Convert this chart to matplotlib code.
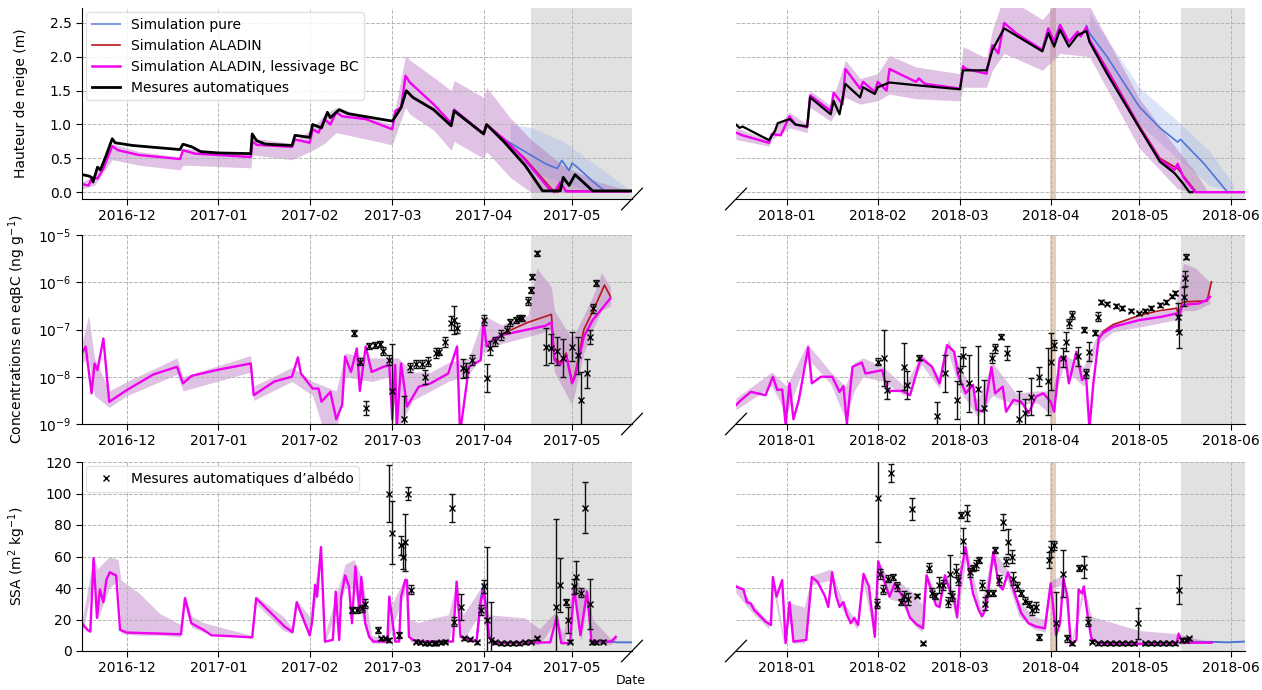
import numpy as np
import pandas as pd
import matplotlib
matplotlib.use('Agg')
import matplotlib.pyplot as plt
import matplotlib.dates as mdates
from matplotlib.lines import Line2D

# ---------------- DATA ----------------
# Top left: snow depth 2016-2017 (m)
tl_sim_dates = ['2016-11-15 18:00','2016-11-18','2016-11-19','2016-11-20','2016-11-21','2016-11-23','2016-11-26','2016-11-28','2016-12-05','2016-12-19','2016-12-20','2016-12-24','2017-01-01','2017-01-12','2017-01-12 12:00','2017-01-14','2017-01-26','2017-01-27','2017-02-01','2017-02-02','2017-02-04','2017-02-06','2017-02-08','2017-02-10','2017-02-12','2017-02-20','2017-03-01','2017-03-02','2017-03-04','2017-03-05 12:00','2017-03-07','2017-03-15','2017-03-21','2017-03-22','2017-04-01','2017-04-02','2017-04-08','2017-04-15','2017-04-20','2017-04-23','2017-04-25','2017-04-27','2017-04-29','2017-05-05','2017-05-20']
tl_sim_mag = [0.12,0.10,0.20,0.22,0.20,0.35,0.68,0.62,0.55,0.49,0.62,0.57,0.55,0.52,0.75,0.70,0.67,0.78,0.73,0.93,0.88,1.08,1.00,1.18,1.12,1.08,0.93,1.20,1.25,1.72,1.62,1.30,1.02,1.22,0.86,1.00,0.78,0.48,0.22,0.06,0.00,0.15,0.01,0.01,0.01]
tl_red_dates = ['2017-04-08','2017-04-15','2017-04-20','2017-04-24','2017-04-26','2017-04-27','2017-04-29','2017-05-20']
tl_red = [0.78,0.50,0.25,0.05,0.00,0.12,0.02,0.01]
tl_blue_dates = ['2017-04-08','2017-04-15','2017-04-22','2017-04-26','2017-04-27 12:00','2017-04-30','2017-05-01','2017-05-03','2017-05-08','2017-05-12','2017-05-21']
tl_blue = [0.78,0.60,0.42,0.35,0.47,0.32,0.43,0.36,0.16,0.02,0.01]
tl_obs_dates = ['2016-11-15 18:00','2016-11-18','2016-11-19','2016-11-19 12:00','2016-11-21','2016-11-22','2016-11-24','2016-11-26','2016-11-27','2016-12-03','2016-12-19','2016-12-20','2016-12-23','2016-12-26','2017-01-01','2017-01-12','2017-01-12 12:00','2017-01-14','2017-01-17','2017-01-26','2017-01-27','2017-02-01','2017-02-02','2017-02-05','2017-02-07','2017-02-08','2017-02-10','2017-02-11','2017-02-14','2017-03-01','2017-03-03','2017-03-04','2017-03-05 18:00','2017-03-08','2017-03-15','2017-03-21','2017-03-22','2017-04-01','2017-04-02','2017-04-08','2017-04-15','2017-04-21','2017-04-27','2017-04-28','2017-04-30','2017-05-02','2017-05-04','2017-05-08','2017-05-21']
tl_obs = [0.26,0.24,0.22,0.15,0.37,0.33,0.55,0.79,0.73,0.69,0.63,0.71,0.67,0.60,0.58,0.57,0.86,0.76,0.71,0.69,0.84,0.81,1.00,0.95,1.18,1.10,1.18,1.22,1.16,1.05,1.18,1.25,1.50,1.40,1.22,0.98,1.20,0.86,1.00,0.74,0.40,0.02,0.02,0.22,0.10,0.26,0.18,0.02,0.02]
tl_band_dates = ['2016-11-15 18:00','2016-11-20','2016-11-26','2016-12-05','2016-12-19','2016-12-20','2017-01-12','2017-01-12 12:00','2017-01-26','2017-02-02','2017-02-06','2017-02-10','2017-03-01','2017-03-05 12:00','2017-03-07','2017-03-15','2017-03-21','2017-03-22','2017-04-01','2017-04-02','2017-04-10','2017-04-17','2017-04-28','2017-05-10','2017-05-20']
tl_band_lo = [0.05,0.10,0.48,0.40,0.33,0.40,0.36,0.55,0.48,0.62,0.72,0.88,0.70,1.25,1.15,0.92,0.62,0.75,0.50,0.60,0.22,0.00,0.00,0.00,0.00]
tl_band_hi = [0.15,0.25,0.72,0.60,0.52,0.65,0.55,0.80,0.72,0.95,1.15,1.25,1.00,2.02,1.95,1.70,1.50,1.65,1.40,1.55,1.10,0.78,0.39,0.15,0.03]
tl_bband_dates = ['2017-04-10','2017-04-17','2017-04-28','2017-05-08','2017-05-20']
tl_bband_lo = [0.60,0.30,0.15,0.00,0.00]
tl_bband_hi = [1.00,0.96,0.75,0.44,0.05]

# Top right: snow depth 2017-2018 (m)
tr_sim_dates = ['2017-12-14 18:00','2017-12-17','2017-12-26','2017-12-27','2017-12-30','2018-01-02','2018-01-04','2018-01-08','2018-01-09','2018-01-16','2018-01-17','2018-01-20','2018-01-21','2018-01-26','2018-01-27','2018-01-31','2018-02-01','2018-02-04','2018-02-05','2018-02-14','2018-02-15','2018-02-17','2018-03-01','2018-03-02','2018-03-03','2018-03-10','2018-03-12','2018-03-14','2018-03-16','2018-03-20','2018-03-29','2018-03-31','2018-04-02','2018-04-04','2018-04-07','2018-04-10','2018-04-11','2018-04-13','2018-04-14','2018-04-20','2018-05-01','2018-05-08','2018-05-13','2018-05-14','2018-05-16','2018-05-20','2018-06-05 22:00']
tr_sim_mag = [0.88,0.84,0.73,0.86,0.84,1.12,1.00,0.96,1.43,1.20,1.47,1.30,1.82,1.53,1.63,1.48,1.63,1.50,1.82,1.63,1.68,1.60,1.53,1.86,1.82,1.75,2.17,2.05,2.50,2.35,2.10,2.42,2.22,2.47,2.22,2.37,2.30,2.44,2.25,1.80,0.96,0.48,0.33,0.42,0.22,0.00,0.00]
tr_red_dates = ['2018-04-14','2018-04-20','2018-05-01','2018-05-08','2018-05-14','2018-05-20']
tr_red = [2.25,1.82,0.98,0.50,0.35,0.02]
tr_blue_dates = ['2018-04-13','2018-04-14','2018-04-20','2018-05-01','2018-05-08','2018-05-14','2018-05-15','2018-05-23','2018-05-31','2018-06-05 22:00']
tr_blue = [2.46,2.35,2.00,1.26,0.95,0.74,0.78,0.42,0.00,0.00]
tr_obs_dates = ['2017-12-14 18:00','2017-12-16','2017-12-17','2017-12-26','2017-12-28','2017-12-29','2018-01-02','2018-01-04','2018-01-08','2018-01-09','2018-01-16','2018-01-17','2018-01-19','2018-01-21','2018-01-26','2018-01-27','2018-01-31','2018-02-01','2018-02-05','2018-02-14','2018-03-01','2018-03-02','2018-03-10','2018-03-12','2018-03-16','2018-03-29','2018-03-31','2018-04-02','2018-04-04','2018-04-07','2018-04-10','2018-04-13','2018-04-14','2018-04-20','2018-05-01','2018-05-08','2018-05-13','2018-05-16','2018-05-18','2018-05-19']
tr_obs = [1.00,0.95,0.97,0.77,0.90,1.02,1.08,1.00,0.97,1.40,1.15,1.35,1.15,1.60,1.40,1.55,1.45,1.55,1.62,1.58,1.52,1.80,1.80,2.10,2.42,2.08,2.35,2.15,2.40,2.15,2.32,2.38,2.22,1.75,0.95,0.45,0.28,0.12,0.00,0.00]
tr_band_dates = ['2017-12-14 18:00','2017-12-26','2017-12-27','2018-01-02','2018-01-08','2018-01-09','2018-01-16','2018-01-21','2018-01-26','2018-02-01','2018-02-05','2018-02-14','2018-03-01','2018-03-02','2018-03-10','2018-03-12','2018-03-16','2018-03-29','2018-04-04','2018-04-14','2018-05-01','2018-05-14','2018-05-20','2018-05-24']
tr_band_lo = [0.78,0.68,0.78,0.95,0.88,1.25,1.05,1.40,1.30,1.35,1.45,1.38,1.35,1.55,1.55,1.80,2.05,1.80,2.05,2.00,0.65,0.05,0.00,0.00]
tr_band_hi = [0.95,0.78,0.90,1.18,1.00,1.50,1.28,1.95,1.68,1.75,2.02,1.85,1.75,2.15,1.98,2.40,2.90,2.55,2.85,2.75,1.38,0.62,0.30,0.02]
tr_bband_dates = ['2018-04-14','2018-05-01','2018-05-14','2018-05-25','2018-06-02']
tr_bband_lo = [2.20,1.00,0.50,0.10,0.00]
tr_bband_hi = [2.65,1.55,1.05,0.60,0.12]

# Middle left: eqBC concentration 2016-2017 (log10 of ng g-1)
ml_sim_dates = ['2016-11-15 18:00','2016-11-17','2016-11-19','2016-11-20','2016-11-21','2016-11-23','2016-11-25','2016-12-01','2016-12-10','2016-12-18','2016-12-20','2016-12-23','2017-01-01','2017-01-12','2017-01-13','2017-01-20','2017-01-26','2017-01-28','2017-01-29','2017-02-02','2017-02-04','2017-02-05','2017-02-08','2017-02-10','2017-02-12','2017-02-13','2017-02-15','2017-02-17','2017-02-18','2017-02-20','2017-02-22','2017-02-26','2017-02-28','2017-03-01','2017-03-02','2017-03-02 12:00','2017-03-04','2017-03-06','2017-03-10','2017-03-14','2017-03-20','2017-03-23','2017-03-24','2017-03-27','2017-03-31','2017-04-01','2017-04-02','2017-04-04','2017-04-07','2017-04-16','2017-04-22','2017-04-24','2017-04-25','2017-04-27','2017-04-29','2017-05-01','2017-05-02','2017-05-05','2017-05-08','2017-05-14']
ml_sim_mag = [-7.50,-7.36,-8.35,-7.72,-7.86,-7.19,-8.53,-8.28,-7.95,-7.79,-8.14,-7.98,-7.85,-7.72,-8.39,-8.10,-8.00,-7.59,-7.93,-8.25,-8.25,-8.53,-8.32,-8.90,-8.60,-7.57,-7.90,-7.40,-8.30,-7.36,-7.90,-7.79,-7.75,-8.90,-7.75,-9.10,-7.72,-8.63,-8.21,-8.14,-7.93,-7.36,-9.20,-7.79,-7.65,-6.80,-7.36,-7.22,-7.12,-7.00,-6.92,-6.85,-7.65,-7.75,-7.55,-8.14,-8.00,-7.15,-6.80,-6.34]
ml_red_dates = ['2017-04-07','2017-04-16','2017-04-24','2017-04-25','2017-04-27','2017-04-29','2017-05-01','2017-05-02','2017-05-05','2017-05-08','2017-05-12','2017-05-14']
ml_red = [-7.10,-6.85,-6.68,-7.60,-7.70,-7.50,-8.10,-7.95,-7.00,-6.62,-6.06,-6.30]
ml_band_dates = ['2016-11-15 18:00','2016-11-18','2016-11-20','2016-11-25','2016-12-01','2016-12-18','2016-12-20','2017-01-12','2017-01-13','2017-01-26','2017-02-02','2017-02-06','2017-02-10','2017-02-13','2017-02-22','2017-02-28','2017-03-03','2017-03-08','2017-03-14','2017-03-20','2017-03-27','2017-04-01','2017-04-07','2017-04-16','2017-04-19','2017-04-24','2017-04-25','2017-05-01','2017-05-05','2017-05-08','2017-05-11','2017-05-14']
ml_band_lo = [-7.70,-7.60,-8.40,-8.65,-8.40,-7.95,-8.30,-7.90,-8.50,-8.10,-8.40,-9.20,-9.20,-8.00,-8.10,-8.00,-9.10,-8.50,-8.30,-8.10,-7.95,-7.50,-7.30,-7.15,-7.10,-7.00,-7.90,-8.60,-7.50,-7.00,-6.60,-6.50]
ml_band_hi = [-7.30,-6.70,-7.60,-8.30,-8.10,-7.60,-8.00,-7.55,-8.20,-7.80,-8.10,-8.20,-8.30,-7.50,-7.60,-7.60,-7.60,-7.90,-7.90,-7.70,-7.60,-6.70,-6.90,-6.70,-5.70,-6.10,-6.60,-7.20,-6.70,-6.30,-5.80,-6.10]
ml_obs_dates = ['2017-02-16','2017-02-18','2017-02-20','2017-02-21','2017-02-23','2017-02-25','2017-02-26','2017-02-28','2017-03-01','2017-03-05','2017-03-07','2017-03-09','2017-03-11','2017-03-12','2017-03-13','2017-03-16','2017-03-17','2017-03-19','2017-03-21','2017-03-22','2017-03-23','2017-03-25','2017-03-26','2017-03-28','2017-04-01','2017-04-02','2017-04-03','2017-04-05','2017-04-07','2017-04-09','2017-04-10','2017-04-12','2017-04-13','2017-04-14','2017-04-16','2017-04-17','2017-04-17 12:00','2017-04-19','2017-04-22','2017-04-24','2017-04-26','2017-04-28','2017-05-01','2017-05-03','2017-05-04','2017-05-06','2017-05-07','2017-05-08','2017-05-09']
ml_obs = [-7.07,-7.68,-8.67,-7.35,-7.33,-7.30,-7.46,-7.65,-8.30,-8.90,-7.80,-7.73,-7.73,-8.00,-7.68,-7.50,-7.47,-7.26,-6.87,-6.80,-6.97,-7.82,-7.85,-7.65,-6.80,-8.03,-7.40,-7.25,-7.12,-7.00,-6.85,-6.80,-6.75,-6.75,-6.40,-6.16,-5.88,-5.39,-7.36,-7.40,-7.45,-7.60,-7.36,-7.55,-8.50,-7.93,-7.15,-6.55,-6.02]
ml_obs_err = [0.06,0.08,0.15,0.06,0.06,0.06,0.08,0.10,1.00,0.50,0.10,0.08,0.08,0.15,0.10,0.10,0.08,0.10,0.15,0.30,0.10,0.20,0.15,0.10,0.10,0.30,0.15,0.10,0.10,0.08,0.08,0.06,0.06,0.06,0.08,0.06,0.06,0.05,0.40,0.30,0.30,0.40,0.30,0.40,0.60,0.30,0.15,0.10,0.06]

# Middle right: eqBC concentration 2017-2018 (log10)
mr_sim_dates = ['2017-12-14 18:00','2017-12-16 14:00','2017-12-19 20:00','2017-12-24 20:00','2017-12-27 08:00','2017-12-28 20:00','2017-12-30 12:00','2017-12-31 16:00','2018-01-02','2018-01-03 08:00','2018-01-05 04:00','2018-01-08 08:00','2018-01-09 14:00','2018-01-12 16:00','2018-01-16 12:00','2018-01-19','2018-01-20 08:00','2018-01-21 12:00','2018-01-23 10:00','2018-01-26 14:00','2018-01-27 20:00','2018-01-30 10:00','2018-02-02 12:00','2018-02-04 10:00','2018-02-09 10:00','2018-02-12','2018-02-15 16:00','2018-02-19 12:00','2018-02-22','2018-02-24 14:00','2018-02-27','2018-02-28 08:00','2018-03-02 22:00','2018-03-05 10:00','2018-03-06 14:00','2018-03-09 04:00','2018-03-11 16:00','2018-03-12 22:00','2018-03-15 12:00','2018-03-16 16:00','2018-03-19 04:00','2018-03-21 20:00','2018-03-24 08:00','2018-03-26 20:00','2018-03-29 08:00','2018-03-31 20:00','2018-04-02','2018-04-03 22:00','2018-04-05 20:00','2018-04-07','2018-04-09 14:00','2018-04-11 12:00','2018-04-12 20:00','2018-04-14','2018-04-15 08:00','2018-04-17 04:00','2018-04-18 12:00','2018-04-22 08:00','2018-05-01','2018-05-08 14:00','2018-05-13 16:00','2018-05-14 08:00','2018-05-15 14:00','2018-05-21 04:00','2018-05-23 20:00','2018-05-25']
mr_sim_mag = [-8.60,-8.49,-8.32,-8.39,-8.00,-8.28,-8.27,-9.00,-8.14,-8.90,-8.49,-7.38,-8.14,-8.00,-8.00,-8.32,-8.20,-9.00,-7.79,-7.70,-7.93,-7.90,-7.86,-8.30,-8.30,-8.39,-7.60,-7.79,-8.14,-7.33,-7.47,-7.96,-8.35,-8.17,-8.70,-8.74,-7.79,-8.35,-8.21,-8.74,-8.49,-8.53,-8.77,-8.42,-8.35,-8.53,-8.74,-7.60,-7.60,-8.14,-7.47,-8.07,-7.96,-9.10,-8.14,-7.19,-7.08,-6.94,-6.80,-6.73,-6.66,-6.76,-6.48,-6.45,-6.38,-6.31]
mr_red_dates = ['2018-04-18 12:00','2018-04-22','2018-05-01','2018-05-08','2018-05-13 16:00','2018-05-14 08:00','2018-05-15 14:00','2018-05-21','2018-05-24','2018-05-25 12:00']
mr_red = [-7.05,-6.90,-6.70,-6.60,-6.55,-6.70,-6.42,-6.40,-6.40,-5.99]
mr_band_dates = ['2017-12-14 18:00','2017-12-27','2018-01-01','2018-01-08','2018-01-16','2018-01-21','2018-01-24','2018-01-27','2018-02-03','2018-02-10','2018-02-16','2018-02-22','2018-02-25','2018-03-01','2018-03-07','2018-03-12','2018-03-20','2018-03-27','2018-04-01','2018-04-05','2018-04-12','2018-04-17','2018-04-22','2018-05-01','2018-05-13','2018-05-16','2018-05-20','2018-05-25']
mr_band_lo = [-8.70,-8.20,-8.80,-7.60,-8.15,-8.90,-8.30,-8.00,-8.10,-8.40,-7.75,-8.25,-7.50,-8.30,-8.85,-8.40,-8.60,-8.55,-8.80,-7.80,-8.20,-7.30,-7.05,-6.95,-6.80,-6.60,-6.60,-6.45]
mr_band_hi = [-8.45,-7.90,-8.20,-7.30,-7.90,-8.20,-7.70,-7.60,-7.80,-8.20,-7.50,-8.00,-7.20,-7.80,-8.50,-7.70,-8.35,-8.30,-8.30,-7.50,-7.80,-7.05,-6.85,-6.70,-6.55,-5.60,-5.70,-6.00]
mr_obs_dates = ['2018-02-01','2018-02-03','2018-02-04','2018-02-10','2018-02-11','2018-02-15','2018-02-21','2018-02-24','2018-02-28','2018-03-01','2018-03-02','2018-03-04','2018-03-07','2018-03-09','2018-03-12','2018-03-13','2018-03-15','2018-03-17','2018-03-21','2018-03-23','2018-03-25','2018-03-28','2018-03-31','2018-04-01','2018-04-02','2018-04-05','2018-04-06','2018-04-07','2018-04-08','2018-04-10','2018-04-12','2018-04-13','2018-04-14','2018-04-16','2018-04-17','2018-04-18','2018-04-20','2018-04-23','2018-04-25','2018-04-28','2018-05-01','2018-05-03','2018-05-05','2018-05-08','2018-05-10','2018-05-12','2018-05-13','2018-05-14','2018-05-14 12:00','2018-05-16','2018-05-16 12:00','2018-05-17']
mr_obs = [-7.68,-7.60,-8.28,-7.79,-8.17,-7.60,-8.84,-7.93,-8.49,-7.86,-7.57,-8.14,-8.25,-8.67,-7.60,-7.40,-7.15,-7.50,-8.90,-8.77,-8.42,-8.00,-8.10,-7.68,-7.33,-7.60,-7.26,-6.87,-6.69,-7.57,-7.00,-7.93,-7.47,-7.07,-6.73,-6.41,-6.45,-6.50,-6.55,-6.60,-6.66,-6.60,-6.55,-6.48,-6.42,-6.30,-6.23,-6.73,-7.05,-6.31,-5.92,-5.46]
mr_obs_err = [0.08,0.60,0.20,0.50,0.30,0.05,0.30,0.40,0.40,0.30,0.20,0.60,0.90,0.60,0.10,0.10,0.05,0.15,0.60,0.30,0.40,0.20,0.70,0.60,0.10,0.20,0.20,0.10,0.08,0.20,0.05,0.10,0.20,0.05,0.10,0.04,0.04,0.04,0.04,0.04,0.04,0.04,0.04,0.04,0.04,0.04,0.04,0.30,0.35,0.20,0.15,0.05]

# Bottom left: SSA 2016-2017 (m2 kg-1)
bl_sim_dates = ['2016-11-15 18:00','2016-11-17 14:00','2016-11-18 14:00','2016-11-19 16:00','2016-11-20 20:00','2016-11-21 20:00','2016-11-23','2016-11-24','2016-11-25 04:00','2016-11-27 08:00','2016-11-28 16:00','2016-12-01','2016-12-13','2016-12-19 08:00','2016-12-20 16:00','2016-12-22 20:00','2016-12-27','2016-12-29 16:00','2017-01-12 12:00','2017-01-13 20:00','2017-01-23 12:00','2017-01-26 04:00','2017-01-27 14:00','2017-02-01','2017-02-01 20:00','2017-02-02 20:00','2017-02-03 12:00','2017-02-04 20:00','2017-02-06 04:00','2017-02-08 20:00','2017-02-09 20:00','2017-02-11','2017-02-11 16:00','2017-02-13','2017-02-14 08:00','2017-02-15 08:00','2017-02-16 12:00','2017-02-17 20:00','2017-02-18 12:00','2017-02-19 20:00','2017-02-21 04:00','2017-02-22 14:00','2017-02-27 08:00','2017-02-28','2017-03-01','2017-03-02','2017-03-03 08:00','2017-03-04','2017-03-05 10:00','2017-03-06','2017-03-06 16:00','2017-03-08','2017-03-10 20:00','2017-03-21 14:00','2017-03-22 20:00','2017-03-24 04:00','2017-03-29 14:00','2017-03-31','2017-04-01','2017-04-02 20:00','2017-04-04 08:00','2017-04-23 14:00','2017-04-25 20:00','2017-04-27 08:00','2017-04-30 08:00','2017-05-01 16:00','2017-05-03 20:00','2017-05-06 02:00','2017-05-07 14:00','2017-05-14 08:00','2017-05-15 20:00']
bl_sim_mag = [17.6,13.4,12.3,59.0,21.0,39.0,31.0,45.0,50.0,48.0,13.4,11.7,11.0,10.6,33.5,17.6,13.4,10.0,8.7,33.5,15.5,12.0,31.0,10.0,18.7,42.0,34.5,66.0,6.0,7.0,37.7,7.0,34.5,48.0,41.0,17.6,53.6,25.0,47.0,17.6,9.0,6.0,6.0,34.5,19.7,6.0,6.0,34.5,45.0,45.0,9.0,7.0,6.0,6.0,44.0,9.0,6.0,31.0,39.0,9.0,5.0,5.5,22.0,5.0,5.0,40.0,10.0,37.7,6.0,6.0,9.0]
bl_blue_dates_a = ['2017-03-29 14:00','2017-03-31','2017-04-01','2017-04-02 20:00','2017-04-04 08:00']
bl_blue_a = [6.0,33.0,43.0,10.0,5.0]
bl_blue_dates_b = ['2017-05-07 14:00','2017-05-14 08:00','2017-05-16','2017-05-21 08:00']
bl_blue_b = [6.0,6.0,5.5,5.5]
bl_band_dates = ['2016-11-15 18:00','2016-11-19 16:00','2016-11-21','2016-11-25','2016-11-28','2016-11-29','2016-12-05','2016-12-12','2016-12-19','2016-12-20 16:00','2016-12-23','2016-12-27','2017-01-12','2017-01-13 20:00','2017-01-23','2017-01-26','2017-01-27 14:00','2017-02-01','2017-02-04 20:00','2017-02-06','2017-02-13','2017-02-16','2017-02-19','2017-02-22','2017-02-27','2017-03-01','2017-03-05 12:00','2017-03-07','2017-03-10','2017-03-15','2017-03-20','2017-03-23','2017-03-25','2017-03-31','2017-04-03','2017-04-15','2017-04-20','2017-04-25','2017-04-28','2017-05-02','2017-05-04','2017-05-06','2017-05-08','2017-05-14','2017-05-16']
bl_band_lo = [10,45,20,40,45,11,10,10,9,30,15,12,8,30,13,11,28,8,55,4,40,40,20,5,5,15,38,6,5,4,4,35,6,25,5,4,4,18,4,35,6,30,5,4,7]
bl_band_hi = [19,60,52,60,58,45,37,24,17,36,22,18,10,35,22,15,32,22,68,10,55,58,45,10,8,30,48,20,18,21,23,45,23,40,23,21,14,24,11,48,40,40,20,8,10]
bl_obs_dates = ['2017-02-15 12:00','2017-02-17','2017-02-18 20:00','2017-02-19 20:00','2017-02-24','2017-02-25 08:00','2017-02-26 16:00','2017-02-27 20:00','2017-02-28','2017-02-28 20:00','2017-03-03 08:00','2017-03-04','2017-03-04 14:00','2017-03-05 08:00','2017-03-06 10:00','2017-03-07 08:00','2017-03-09','2017-03-10 12:00','2017-03-12','2017-03-13 12:00','2017-03-15','2017-03-16','2017-03-17 12:00','2017-03-19','2017-03-21 06:00','2017-03-22','2017-03-24 04:00','2017-03-25 12:00','2017-03-27 12:00','2017-03-29 14:00','2017-03-31','2017-04-01','2017-04-02','2017-04-03 08:00','2017-04-05','2017-04-07','2017-04-09','2017-04-11','2017-04-13','2017-04-15','2017-04-17','2017-04-19','2017-04-25 12:00','2017-04-26 20:00','2017-04-28 20:00','2017-04-29 14:00','2017-04-30 08:00','2017-05-01 16:00','2017-05-02 12:00','2017-05-04','2017-05-05 12:00','2017-05-07','2017-05-07 20:00','2017-05-09 04:00','2017-05-11 12:00']
bl_obs = [26,26,27,30,13.4,8,8,7,100,75,10,67,60,69,100,39,6,5.5,5,5,5,5,5.5,6,91,18.6,28,8,7.4,5.5,26,41,20,7,5.5,5,5,5,5,5.5,6,8,28,42,31,19.7,6,41,47,37,91,30,5.5,5.5,6]
bl_obs_err = [2,2,2,3,2,1,1,1,18,20,2,6,8,18,4,3,1,1,1,1,1,1,1,1,9,3,8,1,1,1,3,4,46,24,1,1,1,1,1,1,1,1,56,17,2,8,1,5,10,3,16,16,1,1,1]

# Bottom right: SSA 2017-2018
br_sim_dates = ['2017-12-14 18:00','2017-12-17 08:00','2017-12-18 12:00','2017-12-19 20:00','2017-12-21','2017-12-24 20:00','2017-12-26 16:00','2017-12-27 08:00','2017-12-28 14:00','2017-12-30 12:00','2017-12-31 16:00','2018-01-02','2018-01-03 08:00','2018-01-07 16:00','2018-01-09 14:00','2018-01-11 12:00','2018-01-14','2018-01-15 04:00','2018-01-16 12:00','2018-01-17 20:00','2018-01-19','2018-01-20 08:00','2018-01-21 12:00','2018-01-22 20:00','2018-01-24','2018-01-25 08:00','2018-01-27 04:00','2018-01-29','2018-01-31','2018-02-01 04:00','2018-02-02 12:00','2018-02-03 20:00','2018-02-05','2018-02-06 20:00','2018-02-09 10:00','2018-02-12','2018-02-14 12:00','2018-02-16 10:00','2018-02-17 14:00','2018-02-20 20:00','2018-02-22','2018-02-23 20:00','2018-02-25 20:00','2018-02-27','2018-02-28','2018-03-01','2018-03-02 20:00','2018-03-04 02:00','2018-03-05 10:00','2018-03-07 08:00','2018-03-08 12:00','2018-03-09 20:00','2018-03-12 08:00','2018-03-14 04:00','2018-03-15 12:00','2018-03-17 08:00','2018-03-19 04:00','2018-03-21 20:00','2018-03-24 08:00','2018-03-26 20:00','2018-03-29 20:00','2018-03-31 20:00','2018-04-02 16:00','2018-04-04','2018-04-05 04:00','2018-04-06 12:00','2018-04-07 16:00','2018-04-09 14:00','2018-04-10 08:00','2018-04-11 12:00','2018-04-12 02:00','2018-04-13 10:00','2018-04-14 16:00','2018-04-17 04:00','2018-05-01','2018-05-13 16:00','2018-05-14 08:00','2018-05-15 14:00','2018-05-21 04:00','2018-05-25 14:00']
br_sim_mag = [41,39,31,30,26,18.7,16.5,47,34.5,45,5,31,6,7,47,44,35,28,50,35,28,31,23,17.6,21,16.5,49,41,9,57,49,41,34.5,43,34.5,21,16.5,14.4,48,29,28,48,36.5,33,21.6,46,66,51,36.5,26,22,27,63,42,39,50,39,24,17.6,15.5,14.4,43,10,17.6,46,34.5,4,7,39,36.5,41,22,8,5,4.5,5,11,5.3,5.3,5.3]
br_blue_dates = ['2018-05-15 14:00','2018-05-25 14:00','2018-05-31','2018-06-05 22:00']
br_blue = [5.8,5.8,5.5,6.0]
br_band_dates = ['2017-12-14 18:00','2017-12-20','2017-12-26','2017-12-27 08:00','2017-12-31','2018-01-02','2018-01-03','2018-01-07','2018-01-09 14:00','2018-01-16','2018-01-20','2018-01-25','2018-01-27','2018-01-31','2018-02-01','2018-02-05','2018-02-09','2018-02-13','2018-02-16','2018-02-17 14:00','2018-02-22','2018-02-24','2018-02-28','2018-03-03','2018-03-08','2018-03-12','2018-03-17','2018-03-21','2018-03-26','2018-03-30','2018-04-01','2018-04-05','2018-04-08','2018-04-12','2018-04-14 16:00','2018-04-20','2018-05-01','2018-05-14','2018-05-20','2018-05-25']
br_band_lo = [37,25,14,40,5,20,5,5,42,45,26,14,44,8,50,33,31,17,12,45,26,44,18,58,20,55,45,22,14,12,40,42,3,36,7,4,4,4,5,5]
br_band_hi = [43,31,18,48,10,31,30,28,48,52,32,18,50,20,58,45,43,37,30,50,32,50,32,68,27,65,52,32,22,20,45,48,8,42,22,19,13,11,8,6]
br_obs_dates = ['2018-01-31 14:00','2018-02-01 04:00','2018-02-01 20:00','2018-02-02 20:00','2018-02-04 10:00','2018-02-05 16:00','2018-02-06 08:00','2018-02-07 12:00','2018-02-08 20:00','2018-02-10','2018-02-11 08:00','2018-02-12 14:00','2018-02-14 12:00','2018-02-16 10:00','2018-02-18 12:00','2018-02-19 12:00','2018-02-20 12:00','2018-02-22','2018-02-23 08:00','2018-02-24 20:00','2018-02-25 14:00','2018-02-26 10:00','2018-02-27 16:00','2018-02-28 08:00','2018-03-01 04:00','2018-03-02 04:00','2018-03-03 12:00','2018-03-04 10:00','2018-03-05 10:00','2018-03-06 14:00','2018-03-07 14:00','2018-03-08 12:00','2018-03-09 10:00','2018-03-10 10:00','2018-03-12 08:00','2018-03-12 22:00','2018-03-14 04:00','2018-03-15 12:00','2018-03-16 16:00','2018-03-17 08:00','2018-03-18 14:00','2018-03-19 04:00','2018-03-20 12:00','2018-03-21 20:00','2018-03-23','2018-03-24 08:00','2018-03-25 12:00','2018-03-26 20:00','2018-03-28','2018-03-31 04:00','2018-03-31 20:00','2018-04-01 20:00','2018-04-02 16:00','2018-04-05 04:00','2018-04-06 12:00','2018-04-08 02:00','2018-04-10 08:00','2018-04-12 02:00','2018-04-13 10:00','2018-04-15','2018-04-17','2018-04-19','2018-04-21','2018-04-23','2018-04-25','2018-04-27','2018-04-29','2018-04-30 10:00','2018-05-03','2018-05-05','2018-05-07','2018-05-09','2018-05-11','2018-05-13','2018-05-14 08:00','2018-05-15 14:00','2018-05-16 20:00','2018-05-18']
br_obs = [30,97,49,39,46,113,47,41,31,35,33,90,35,5,53,37,35,42,42,31,49,35,51,45,86.5,70,87.5,50,52.6,54.7,58,42,30,36.7,36.7,64,45,82,57,69.5,60,46,41,36.7,32,30,26,28,9,58,65,67,17.6,49,8,5,52.6,53.6,18.6,6,5,5,5,5,5,5,5,17.6,5,5,5,5,5,5,39,7,7,8]
br_obs_err = [3,28,3,3,2,6,2,3,2,3,4,7,1,1,3,3,2,5,3,3,12,3,4,3,2,8,5,3,2,3,2,3,4,2,2,2,3,5,3,8,4,4,3,2,2,2,3,3,2,5,5,3,20,15,2,1,2,7,3,1,1,1,1,1,1,1,1,10,1,1,1,1,1,1,9,1,1,1]

# Shaded periods and tick / label texts
shade_left = ('2017-04-17', '2017-05-21 08:00')
shade_right = ('2018-05-15', '2018-06-05 22:00')
tan_right = ('2018-03-31 12:00', '2018-04-02 18:00')
xlim_left = ('2016-11-15 18:00', '2017-05-21 08:00')
xlim_right = ('2017-12-14 19:00', '2018-06-05 22:00')
legend_labels = ['Simulation pure', 'Simulation ALADIN', 'Simulation ALADIN, lessivage BC', 'Mesures automatiques']
legend_obs_label = "Mesures automatiques d\u2019alb\u00e9do"
ylabels = ['Hauteur de neige (m)', 'Concentrations en eqBC (ng g$^{-1}$)', 'SSA (m$^2$ kg$^{-1}$)']

# ---------------- STYLE ----------------
C_BLUE = '#4f74d6'
C_RED = '#b5161c'
C_MAG = '#f000f0'
C_BAND = '#b060b8'
C_BBAND = '#9db4ea'

plt.rcParams['font.family'] = ['DejaVu Sans']
plt.rcParams['font.size'] = 10

def D(lst):
    return pd.to_datetime(pd.Series(lst), format='mixed').values

fig = plt.figure(figsize=(12.62, 6.9), dpi=100)
xL, wL = 82/1262, 550/1262
xR, wR = 736/1262, 509/1262
rows = [(1-199/690, 191/690), (1-424/690, 189/690), (1-651/690, 189/690)]

axes = []
for r, (b, h) in enumerate(rows):
    axl = fig.add_axes([xL, b, wL, h])
    axr = fig.add_axes([xR, b, wR, h])
    axes.append((axl, axr))

def style(ax, left):
    ax.set_axisbelow('line')
    ax.grid(True, which='major', color='#b4b4b4', linestyle='--', linewidth=0.7)
    ax.spines['top'].set_visible(False)
    ax.spines['right'].set_visible(False)
    if not left:
        ax.spines['left'].set_visible(False)
        ax.tick_params(axis='y', which='both', left=False, labelleft=False)
    ax.xaxis.set_major_locator(mdates.MonthLocator())
    ax.xaxis.set_major_formatter(mdates.DateFormatter('%Y-%m'))
    ax.tick_params(axis='both', labelsize=10, length=4)
    if left:
        s, e = shade_left
        ax.set_xlim(pd.Timestamp(xlim_left[0]), pd.Timestamp(xlim_left[1]))
        ax.axvspan(pd.Timestamp(s), pd.Timestamp(e), color='#888888', alpha=0.25, lw=0, zorder=0)
        ax.plot([1-0.019, 1+0.019], [-0.057, 0.057], transform=ax.transAxes, color='k', lw=0.9, clip_on=False)
    else:
        s, e = shade_right
        ax.set_xlim(pd.Timestamp(xlim_right[0]), pd.Timestamp(xlim_right[1]))
        ax.axvspan(pd.Timestamp(s), pd.Timestamp(e), color='#888888', alpha=0.25, lw=0, zorder=0)
        ax.axvspan(pd.Timestamp(tan_right[0]), pd.Timestamp(tan_right[1]), color='#c9a88c', alpha=0.55, lw=0, zorder=0.5)
        ax.plot([-0.0206, 0.0206], [-0.057, 0.057], transform=ax.transAxes, color='k', lw=0.9, clip_on=False)

def band(ax, dates, lo, hi, color, alpha, log=False):
    lo = np.array(lo, float); hi = np.array(hi, float)
    if log:
        lo, hi = 10**lo, 10**hi
    ax.fill_between(D(dates), lo, hi, color=color, alpha=alpha, lw=0, zorder=1)

def line(ax, dates, vals, color, lw, z, log=False):
    v = np.array(vals, float)
    if log:
        v = 10**v
    ax.plot(D(dates), v, color=color, lw=lw, zorder=z)

def obs_points(ax, dates, vals, err, log=False):
    v = np.array(vals, float); e = np.array(err, float)
    if log:
        y = 10**v
        yerr = [y - 10**(v-e), 10**(v+e) - y]
    else:
        y = v
        yerr = e
    ax.errorbar(D(dates), y, yerr=yerr, fmt='x', color='k', ms=4.5, mew=1.0,
                elinewidth=1.0, capsize=2, ecolor='#111111', zorder=5)

# ---- Row 1: snow depth
axl, axr = axes[0]
for ax, left in ((axl, True), (axr, False)):
    style(ax, left)
    ax.set_ylim(-0.1, 2.72)
    ax.set_yticks([0.0, 0.5, 1.0, 1.5, 2.0, 2.5])
    ax.yaxis.set_major_formatter(matplotlib.ticker.FormatStrFormatter('%.1f'))
band(axl, tl_bband_dates, tl_bband_lo, tl_bband_hi, C_BBAND, 0.35)
band(axl, tl_band_dates, tl_band_lo, tl_band_hi, C_BAND, 0.38)
line(axl, tl_blue_dates, tl_blue, C_BLUE, 1.2, 2)
line(axl, tl_red_dates, tl_red, C_RED, 1.2, 2.2)
line(axl, tl_sim_dates, tl_sim_mag, C_MAG, 1.7, 2.5)
line(axl, tl_obs_dates, tl_obs, 'k', 2.0, 3)
band(axr, tr_bband_dates, tr_bband_lo, tr_bband_hi, C_BBAND, 0.35)
band(axr, tr_band_dates, tr_band_lo, tr_band_hi, C_BAND, 0.38)
line(axr, tr_blue_dates, tr_blue, C_BLUE, 1.2, 2)
line(axr, tr_red_dates, tr_red, C_RED, 1.2, 2.2)
line(axr, tr_sim_dates, tr_sim_mag, C_MAG, 1.7, 2.5)
line(axr, tr_obs_dates, tr_obs, 'k', 1.6, 3)
handles = [Line2D([], [], color=C_BLUE, lw=1.5, alpha=0.7), Line2D([], [], color=C_RED, lw=1.2),
           Line2D([], [], color=C_MAG, lw=1.8), Line2D([], [], color='k', lw=2)]
axl.legend(handles, legend_labels, loc='upper left', fontsize=10, framealpha=0.85,
           edgecolor='#dddddd', borderaxespad=0.3)
axl.set_ylabel(ylabels[0], fontsize=10)

# ---- Row 2: eqBC
axl, axr = axes[1]
for ax, left in ((axl, True), (axr, False)):
    ax.set_yscale('log')
    style(ax, left)
    ax.set_ylim(1e-9, 1e-5)
    ax.yaxis.set_minor_locator(matplotlib.ticker.NullLocator())
band(axl, ml_band_dates, ml_band_lo, ml_band_hi, C_BAND, 0.38, log=True)
line(axl, ml_red_dates, ml_red, C_RED, 1.2, 2.2, log=True)
line(axl, ml_sim_dates, ml_sim_mag, C_MAG, 1.7, 2.5, log=True)
obs_points(axl, ml_obs_dates, ml_obs, ml_obs_err, log=True)
band(axr, mr_band_dates, mr_band_lo, mr_band_hi, C_BAND, 0.38, log=True)
line(axr, mr_red_dates, mr_red, C_RED, 1.2, 2.2, log=True)
line(axr, mr_sim_dates, mr_sim_mag, C_MAG, 1.7, 2.5, log=True)
obs_points(axr, mr_obs_dates, mr_obs, mr_obs_err, log=True)
axl.set_ylabel(ylabels[1], fontsize=10)

# ---- Row 3: SSA
axl, axr = axes[2]
for ax, left in ((axl, True), (axr, False)):
    style(ax, left)
    ax.set_ylim(0, 120)
    ax.set_yticks([0, 20, 40, 60, 80, 100, 120])
band(axl, bl_band_dates, bl_band_lo, bl_band_hi, C_BAND, 0.38)
line(axl, bl_blue_dates_a, bl_blue_a, C_BLUE, 1.4, 2)
line(axl, bl_blue_dates_b, bl_blue_b, C_BLUE, 1.4, 2)
line(axl, bl_sim_dates, bl_sim_mag, C_MAG, 1.7, 2.5)
obs_points(axl, bl_obs_dates, bl_obs, bl_obs_err)
band(axr, br_band_dates, br_band_lo, br_band_hi, C_BAND, 0.38)
line(axr, br_blue_dates, br_blue, C_BLUE, 1.4, 2)
line(axr, br_sim_dates, br_sim_mag, C_MAG, 1.7, 2.5)
obs_points(axr, br_obs_dates, br_obs, br_obs_err)
axl.legend([Line2D([], [], color='k', marker='x', ls='none', ms=5)], [legend_obs_label],
           loc='upper left', fontsize=10, framealpha=0.85, edgecolor='#dddddd', borderaxespad=0.3)
axl.set_ylabel(ylabels[2], fontsize=10)

for axl, axr in axes:
    axl.yaxis.set_label_coords(-0.098, 0.5)

fig.text(0.5, 0.004, 'Date', ha='center', va='bottom', fontsize=9)
fig.savefig('out.png', dpi=100)
